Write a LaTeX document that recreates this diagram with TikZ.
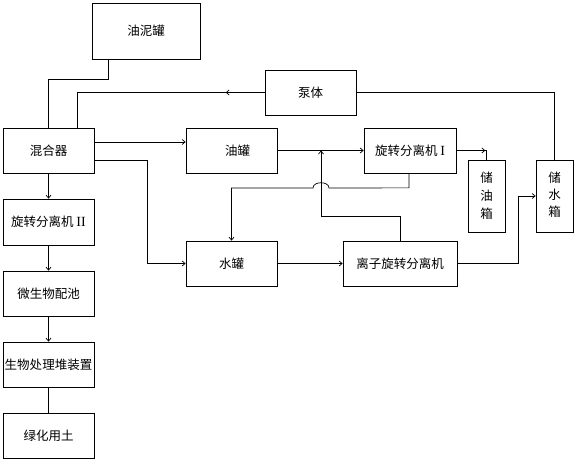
\documentclass[tikz,border=0pt]{standalone}
\usepackage{fontspec}
\newfontfamily\cjk{Noto Sans CJK SC}
\newfontfamily\romf{Liberation Serif}
\usetikzlibrary{arrows.meta,decorations.markings}
\begin{document}
\begin{tikzpicture}[x=1pt,y=-1pt,
  box/.style={draw,line width=0.7pt,inner sep=0pt,font=\cjk\fontsize{12.5}{15}\selectfont},
  conn/.style={line width=0.7pt},
  arr/.style={conn,-{Straight Barb[length=3pt,width=5pt]}},
  arrowat/.style={conn,postaction={decorate},decoration={markings,mark=at position #1 with {\arrow{Straight Barb[length=3pt,width=5pt]}}}}]
\useasboundingbox (0,0) rectangle (577,462);
% boxes
\node[box,minimum width=108pt,minimum height=56pt] (mud) at (146,31) {油泥罐};
\node[box,minimum width=91pt,minimum height=45pt] (pump) at (310.5,92.5) {泵体};
\node[box,minimum width=91pt,minimum height=45pt] (mixer) at (48.5,150.5) {混合器\hspace{11pt}};
\node[box,minimum width=91pt,minimum height=45pt] (oilt) at (231.5,150.5) {\hspace{12pt}油罐};
\node[box,minimum width=92pt,minimum height=45pt] (sep1) at (410,150.5) {旋转分离机 {\romf\fontsize{14}{15}\selectfont I}};
\node[box,minimum width=37pt,minimum height=72pt,align=center,font=\cjk\fontsize{12.5}{18}\selectfont] (oilbox) at (486.5,196) {储\\油\\箱};
\node[box,minimum width=37pt,minimum height=72pt,align=center,font=\cjk\fontsize{12.5}{16}\selectfont] (waterbox) at (554.5,196) {\raisebox{-6pt}{\begin{tabular}{@{}c@{}}储\\[1pt]水\\[1pt]箱\end{tabular}}};
\node[box,minimum width=91pt,minimum height=46pt] (sep2) at (48.5,222) {旋转分离机 {\romf\fontsize{14}{15}\selectfont II}};
\node[box,minimum width=91pt,minimum height=45pt] (micro) at (48.5,293.5) {微生物配池};
\node[box,minimum width=91pt,minimum height=45pt] (bio) at (48.5,364.5) {生物处理堆装置};
\node[box,minimum width=91pt,minimum height=45pt] (soil) at (48.5,435.5) {绿化用土};
\node[box,minimum width=91pt,minimum height=45pt] (watert) at (231.5,263.5) {水罐};
\node[box,minimum width=114pt,minimum height=45pt] (ion) at (400,263.5) {离子旋转分离机};
\coordinate (junc) at (321,150.5);
% connectors
\draw[conn] ([xshift=17pt]mud.south west) -- ++(0,20) -| (mixer.north);
\draw[arrowat=39pt] (pump.west) -| ([xshift=28.5pt]mixer.north);
\draw[conn] (pump.east) -| (waterbox.north);
\draw[arr] ([yshift=8.5pt]mixer.east) -- ([yshift=8.5pt]oilt.west);
\draw[arr] ([yshift=-9.5pt]mixer.east) -- ++(53,0) |- (watert.west);
\draw[arr] (mixer.south) -- (sep2.north);
\draw[arr] (sep2.south) -- (micro.north);
\draw[arr] (micro.south) -- (bio.north);
\draw[conn] (bio.south) -- (soil.north);
\draw[arr] (oilt.east) -- (sep1.west);
\draw[arrowat=29pt] (sep1.east) -| (oilbox.north);
\draw[arr] ([xshift=-1pt]sep1.south) -- ++(0,14.5) -- (329,188)
   .. controls (329,181) and (313,181) .. (313,188) -| (watert.north);
\draw[arr] (ion.north) -- ++(0,-24) -| (junc);
\draw[arr] (watert.east) -- (ion.west);
\draw[arr] (ion.east) -- ++(61,0) |- (waterbox.west);
\end{tikzpicture}
\end{document}
